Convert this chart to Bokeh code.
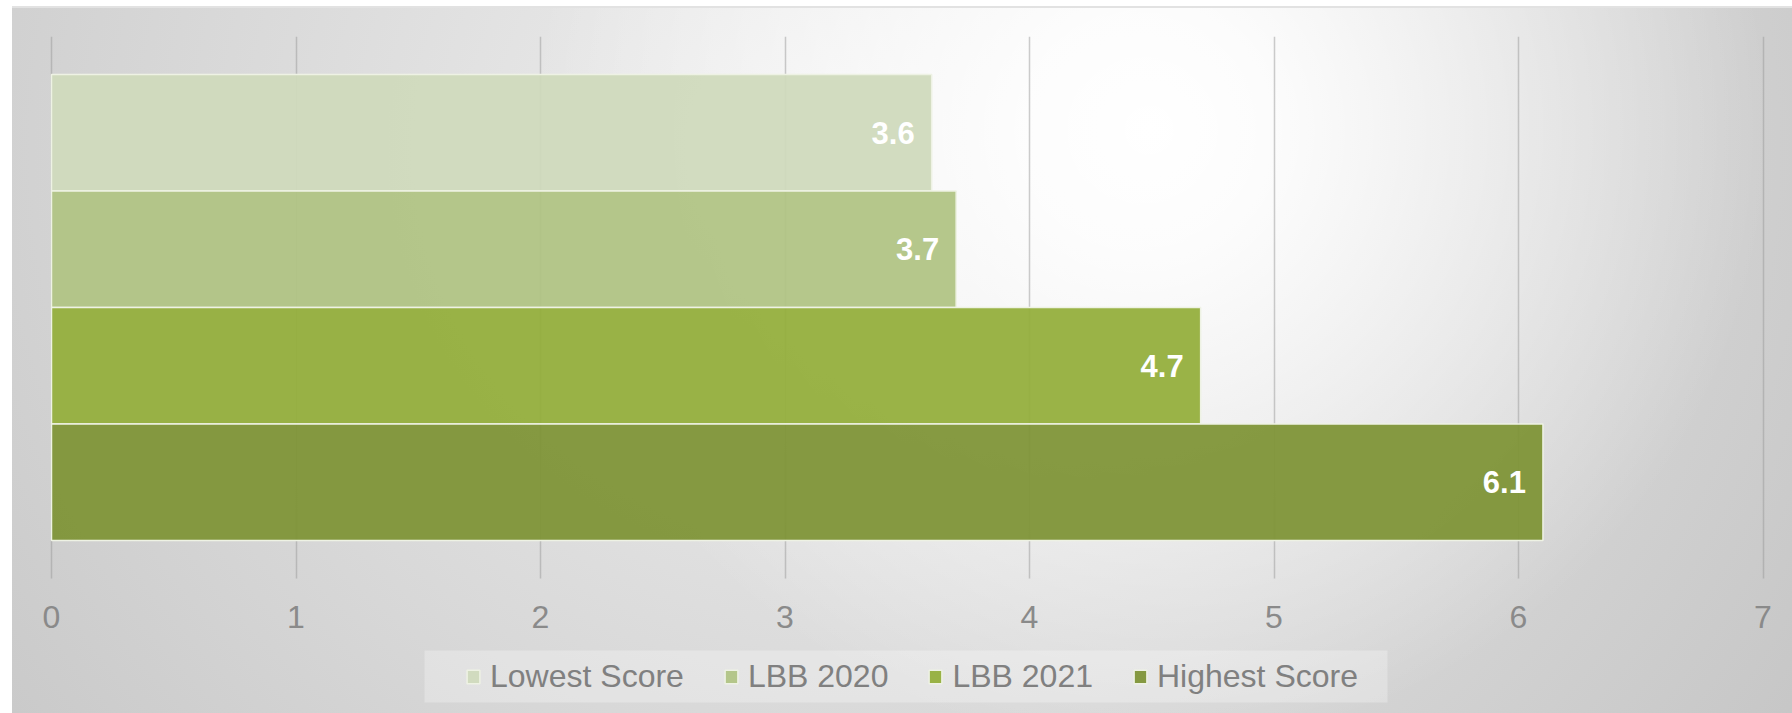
from bokeh.plotting import figure
from bokeh.models import (ColumnDataSource, FixedTicker, Legend, LegendItem, BoxAnnotation,
                          LinearAxis, Grid)
from bokeh.core.properties import value
from bokeh.embed import file_html
from bokeh.resources import INLINE

series = ["Lowest Score", "LBB 2020", "LBB 2021", "Highest Score"]
scores = [3.6, 3.7, 4.7, 6.1]
colors = ["#cfdabc", "#b0c384", "#94ae3c", "#7e9436"]
x_ticks = [0, 1, 2, 3, 4, 5, 6, 7]

FONT = "Liberation Sans"
W, H = 1792, 713

n = len(series)
pos = [n - i for i in range(n)]
src = ColumnDataSource(dict(series=series, score=scores, color=colors, y=pos,
                            label=[f"{v:.1f}" for v in scores]))

# plot-area geometry (pixels) -> ranges of a frame that spans the whole canvas
PX_L, PX_R, PX_T, PX_B = 51, 1762.5, 36, 578
x_min, x_max = x_ticks[0], x_ticks[-1]
ux = (PX_R - PX_L) / (x_max - x_min)
PAD = 0.326
plot_lo, plot_hi = 1 - 0.5 - PAD, n + 0.5 + PAD
uy = (PX_B - PX_T) / (plot_hi - plot_lo)
x_start, x_end = x_min - PX_L / ux, x_max + (W - PX_R) / ux
y_start = plot_hi - (H - PX_T) / uy

p = figure(width=W, height=H, output_backend="svg", toolbar_location=None,
           x_range=(x_start, x_end), y_range=(y_start, plot_hi),
           x_axis_location=None, y_axis_location=None,
           min_border_left=0, min_border_right=0, min_border_top=PX_T, min_border_bottom=0,
           background_fill_color=None, border_fill_color=None, outline_line_color=None)
p.grid.visible = False

p.styles = {
    "background": (
        "linear-gradient(to right, #ffffff 0px, #ffffff 12px, rgba(255,255,255,0) 12px), "
        "linear-gradient(to bottom, #ffffff 0px, #ffffff 6px, #e2e2e2 6px, #e2e2e2 8px, rgba(255,255,255,0) 8px), "
        "radial-gradient(circle 620px at 1150px 130px, rgba(255,255,255,1) 0%, rgba(255,255,255,0.9) 20%, rgba(255,255,255,0) 100%), "
        "radial-gradient(ellipse 1200px 1100px at 850px 150px, #f0f0f0 0%, #c4c4c4 100%)"
    )
}

# vertical gridlines spanning only the plot area
grid = Grid(dimension=0, ticker=FixedTicker(ticks=x_ticks), cross_bounds=(plot_lo, plot_hi),
            grid_line_color="#9a9a9a", grid_line_alpha=0.5, grid_line_width=1.5)
p.add_layout(grid)

ax = LinearAxis(fixed_location=plot_lo, ticker=FixedTicker(ticks=x_ticks))
ax.axis_line_color = None
ax.major_tick_line_color = None
ax.minor_tick_line_color = None
ax.major_label_text_font = FONT
ax.major_label_text_font_size = "32px"
ax.major_label_text_color = "#8a8a8a"
ax.major_label_standoff = 21
p.add_layout(ax, "below")

bars = p.hbar(y="y", right="score", left=0, height=1, source=src,
              fill_color="color", fill_alpha=0.94,
              line_color="#eef2e4", line_width=1.5)

p.text(x="score", y="y", text="label", source=src, x_offset=-17,
       text_align="right", text_baseline="middle", text_color="white",
       text_font=value(FONT), text_font_style="bold", text_font_size="31px")

box = BoxAnnotation(left=424, right=1387, top=650, bottom=702,
                    left_units="canvas", right_units="canvas",
                    top_units="canvas", bottom_units="canvas",
                    fill_color="#ffffff", fill_alpha=0.28, line_color=None)
p.add_layout(box)

items = [LegendItem(label=s, renderers=[bars], index=i) for i, s in enumerate(series)]
legend = Legend(items=items, orientation="horizontal", location=(465, 18),
                padding=6, margin=0, spacing=39, label_standoff=9,
                glyph_width=16, glyph_height=17,
                label_text_font=FONT, label_text_font_size="32px",
                label_text_color="#808080",
                background_fill_alpha=0, border_line_color=None)
p.add_layout(legend)

open("out.html", "w").write(file_html(p, INLINE))
